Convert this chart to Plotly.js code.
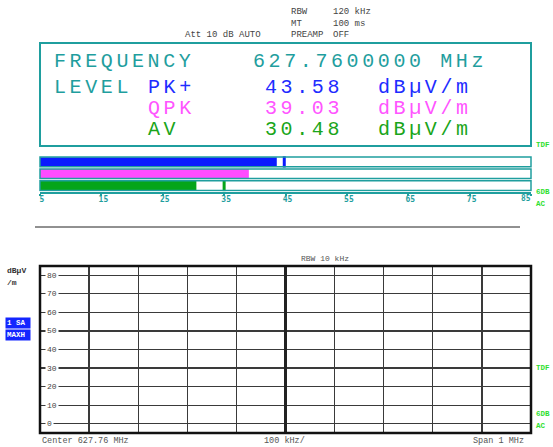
<!DOCTYPE html>
<html><head><meta charset="utf-8">
<script src="https://cdn.plot.ly/plotly-3.0.1.min.js"></script>
<style>
html,body{margin:0;padding:0;background:#fff;}
#chart{width:553px;height:447px;}
.annotation-text[style*="font-size: 20px"]{letter-spacing:3.6px;}
</style></head><body><div id="chart"></div>
<script>
// ---- data ----
const detectors = ['PK+', 'QPK', 'AV'];
const levels = [43.58, 39.03, 30.48];
const maxHold = [44.8, null, 35.0];
const levelUnit = 'dBµV/m';
const frequencyText = '627.7600000 MHz';
const barTicks = [5, 15, 25, 35, 45, 55, 65, 75, 85];
const levelTicks = [0, 10, 20, 30, 40, 50, 60, 70, 80];
const spanTicksKHz = [-500, -400, -300, -200, -100, 0, 100, 200, 300, 400, 500];
const headerLabels = ['RBW', 'MT', 'PREAMP'];
const headerValues = ['120 kHz', '100 ms', 'OFF'];
const attText = 'Att 10 dB AUTO';
const rbwPlotText = 'RBW 10 kHz';
const centerText = 'Center 627.76 MHz';
const divText = '100 kHz/';
const spanText = 'Span 1 MHz';

// ---- style ----
const W = 553, H = 447;
const px = x => x / W, py = y => 1 - y / H;
const TEAL = '#1f9e9e';
const detColors = ['#0a1aff', '#ff4cff', '#05a51a'];
const textColors = ['#1e2cff', '#ff55ff', '#1aa51a'];
const GREEN = '#2ee02e';
const MONO = 'Liberation Mono, Courier New, monospace';

const traces = [
  {type: 'bar', orientation: 'h', y: detectors, x: levels.map(v => v - 5), base: 5,
   marker: {color: detColors}, width: 0.8, xaxis: 'x', yaxis: 'y', hoverinfo: 'skip', showlegend: false},
  {type: 'scatter', mode: 'markers', y: detectors, x: maxHold, xaxis: 'x', yaxis: 'y',
   marker: {symbol: 'line-ns', size: 8, line: {width: 3, color: detColors}}, hoverinfo: 'skip', showlegend: false},
  {type: 'scatter', mode: 'lines', x: [null], y: [null], xaxis: 'x2', yaxis: 'y2', showlegend: false, hoverinfo: 'skip'}
];

const ann = [];
function txt(x, y, text, size, color, opts) {
  ann.push(Object.assign({xref: 'paper', yref: 'paper', x: px(x), y: py(y), text: text, showarrow: false,
    xanchor: 'left', yanchor: 'middle', font: {family: MONO, size: size, color: color}}, opts || {}));
}
// header
txt(183, 35, attText, 9, '#444');
headerLabels.forEach((t, i) => txt(289, 12 + i * 11.5, t, 9, '#444'));
headerValues.forEach((t, i) => txt(331, 12 + i * 11.5, t, 9, '#444'));
// big panel
txt(52, 62, 'FREQUENCY', 20, TEAL);
txt(251, 62, frequencyText, 20, TEAL);
txt(52, 87, 'LEVEL', 20, TEAL);
detectors.forEach((d, i) => {
  const yy = 87 + i * 21;
  txt(146, yy, d, 20, textColors[i]);
  txt(263, yy, levels[i].toFixed(2), 20, textColors[i]);
  txt(376, yy, levelUnit, 20, textColors[i]);
});
// right side green labels
const gfont = {family: MONO, size: 7.5, color: GREEN, weight: 'bold'};
[['TDF', 145], ['6DB', 191.5], ['AC', 204], ['TDF', 368], ['6DB', 413.5], ['AC', 426]].forEach(a =>
  txt(535, a[1], a[0], 7.5, GREEN, {font: gfont, borderpad: 0}));
// last bar-scale label, pulled inside the scale end
const lastTick = barTicks[barTicks.length - 1];
ann.push({xref: 'x', yref: 'paper', x: lastTick, y: py(198), xshift: -5, text: String(lastTick), showarrow: false,
  xanchor: 'center', yanchor: 'middle', borderpad: 0,
  font: {family: 'DejaVu Sans Mono', size: 8, color: TEAL, weight: 'bold'}});
// bottom plot texts
txt(299, 258, rbwPlotText, 8, '#555');
txt(40, 441, centerText, 8.5, '#555');
txt(262, 441, divText, 8.5, '#555');
txt(471, 441, spanText, 8.5, '#555');
const dfont = {family: MONO, size: 8, color: '#333', weight: 'bold'};
txt(5, 270, 'dBµV', 8, '#333', {font: dfont});
txt(5, 282, '/m', 8, '#333', {font: dfont});
const bfont = {family: MONO, size: 7.5, color: '#fff', weight: 'bold'};
txt(5, 323, '1 SA', 7.5, '#fff', {bgcolor: '#1426ff', width: 22, height: 8, borderpad: 1, align: 'left', font: bfont});
txt(5, 335, 'MAXH', 7.5, '#fff', {bgcolor: '#1426ff', width: 22, height: 8, borderpad: 1, align: 'left', font: bfont});
// y tick labels inside plot
levelTicks.forEach(v => ann.push({xref: 'paper', yref: 'y2', x: px(45), y: v, text: String(v), showarrow: false,
  xanchor: 'left', yanchor: 'middle', bgcolor: '#fff', borderpad: 1,
  font: {family: MONO, size: 8, color: '#444'}}));

const shapes = [
  // big panel box
  {type: 'rect', xref: 'paper', yref: 'paper', x0: px(40), x1: px(531), y0: py(146), y1: py(43),
   line: {color: TEAL, width: 2}},
  // separator line
  {type: 'line', xref: 'paper', yref: 'paper', x0: px(35), x1: px(520), y0: py(227), y1: py(227),
   line: {color: '#222', width: 1}},
  // center line and border of spectrum plot
  {type: 'line', xref: 'x2', yref: 'y2 domain', x0: 0, x1: 0, y0: 0, y1: 1, line: {color: '#222', width: 3}},
  {type: 'rect', xref: 'x2 domain', yref: 'y2 domain', x0: 0, x1: 1, y0: 0, y1: 1, line: {color: '#111', width: 2.5}}
];
detectors.forEach((d, i) => shapes.push({type: 'rect', xref: 'x domain', yref: 'y', x0: 0, x1: 1,
  y0: i - 0.41, y1: i + 0.41, line: {color: TEAL, width: 1.5}, layer: 'above'}));

const barTickText = barTicks.map((t, i) => i === barTicks.length - 1 ? '' : String(t));

const layout = {
  width: W, height: H, margin: {l: 0, r: 0, t: 0, b: 0}, paper_bgcolor: '#fff', plot_bgcolor: '#fff',
  showlegend: false, font: {family: MONO},
  xaxis: {domain: [px(40), px(531)], range: [5, 85], tickvals: barTicks, ticktext: barTickText,
    showgrid: false, zeroline: false, showline: true, linecolor: TEAL, linewidth: 2,
    ticks: 'outside', ticklen: 2, tickwidth: 2, tickcolor: TEAL, anchor: 'y', ticklabelstandoff: -3,
    ticklabelshift: 2,
    tickfont: {family: 'DejaVu Sans Mono', size: 8, color: TEAL, weight: 'bold'}},
  yaxis: {domain: [py(191.5), py(156)], type: 'category', range: [2.5, -0.5], showticklabels: false,
    showgrid: false, zeroline: false, showline: false, anchor: 'x'},
  xaxis2: {domain: [px(40), px(531)], range: [-500, 500], tickvals: spanTicksKHz, showticklabels: false,
    showgrid: true, gridcolor: '#3a3a3a', gridwidth: 1.3, zeroline: false, ticks: '', anchor: 'y2'},
  yaxis2: {domain: [py(433), py(266)], range: [-5, 85], tickvals: levelTicks, showticklabels: false,
    showgrid: true, gridcolor: '#3a3a3a', gridwidth: 1.3, zeroline: false, ticks: '', anchor: 'x2'},
  annotations: ann, shapes: shapes
};
Plotly.newPlot('chart', traces, layout, {staticPlot: true, displayModeBar: false});
</script></body></html>
